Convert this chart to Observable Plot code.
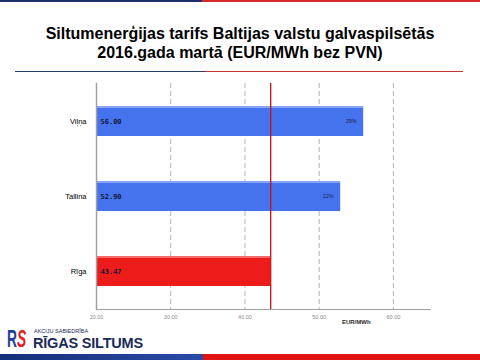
<!DOCTYPE html>
<html>
<head>
<meta charset="utf-8">
<script src="https://cdn.jsdelivr.net/npm/d3@7"></script>
<script src="https://cdn.jsdelivr.net/npm/@observablehq/plot@0.6"></script>
<style>
  html, body { margin: 0; padding: 0; background: #fff; }
  #page { position: relative; width: 480px; height: 360px; overflow: hidden; font-family: "Liberation Sans", Arial, sans-serif; }
  .stripe { position: absolute; }
  #title { position: absolute; top: 24px; left: 0; width: 480px; text-align: center; font-weight: bold; font-size: 16px; line-height: 19px; color: #000; }
  #chart { position: absolute; top: 72px; left: 0; }
  #logo { position: absolute; left: 7px; top: 328px; width: 160px; height: 24px; }
  #logo span { position: absolute; line-height: 1; white-space: nowrap; }
</style>
</head>
<body>
<div id="page">
  <div class="stripe" style="left:0;top:0;width:202px;height:2px;background:#1c2f6b"></div>
  <div class="stripe" style="left:202px;top:0;width:278px;height:2px;background:#d42a2a"></div>
  <div id="title">Siltumenerģijas tarifs Baltijas valstu galvaspilsētās<br>2016.gada martā (EUR/MWh bez PVN)</div>
  <div class="stripe" style="left:15px;top:71px;width:190px;height:1px;background:#2a3a6a"></div>
  <div class="stripe" style="left:205px;top:71px;width:258px;height:1px;background:#c83232"></div>
  <div id="chart"></div>
  <div id="logo">
    <span style="left:0;top:0px;font-weight:bold;font-size:23px;color:#1d3f9a;transform:scaleX(0.6);transform-origin:left top;">R</span>
    <span style="left:10px;top:0px;font-weight:bold;font-style:italic;font-size:23px;color:#e02020;transform:scaleX(0.6);transform-origin:left top;">S</span>
    <span style="left:27px;top:1px;font-size:5.5px;color:#1a2a5a;">AKCIJU SABIEDRĪBA</span>
    <span style="left:26px;top:8px;font-weight:bold;font-size:14.5px;color:#1a2a5a;letter-spacing:-0.2px;">RĪGAS SILTUMS</span>
  </div>
  <div class="stripe" style="left:0;top:354px;width:203px;height:6px;background:linear-gradient(90deg,#142f78,#2a4aa8)"></div>
  <div class="stripe" style="left:203px;top:354px;width:277px;height:6px;background:#e01414"></div>
</div>
<script>
// Data
const cities = ["Viļņa", "Tallina", "Rīga"];
const tariffs = [56.00, 52.90, 43.47];
const diffLabels = ["29%", "22%", ""];
const xTicks = [20, 30, 40, 50, 60];
const xDomain = [20, 65];
const unitLabel = "EUR/MWh";
const referenceCity = "Rīga";

const barColors = { "Viļņa": "#4573ee", "Tallina": "#4573ee", "Rīga": "#ee1b1b" };

const rows = cities.map((c, i) => ({ city: c, value: tariffs[i], diff: diffLabels[i], base: xDomain[0] }));
const refValue = tariffs[cities.indexOf(referenceCity)];

const chart = Plot.plot({
  width: 480,
  height: 258,
  marginLeft: 96,
  marginRight: 50,
  marginTop: 11,
  marginBottom: 21,
  style: { fontFamily: "'Liberation Sans', Arial, sans-serif", background: "transparent" },
  x: { domain: xDomain, ticks: xTicks, tickFormat: d3.format(".2f") },
  y: { domain: cities, paddingInner: 0.6, paddingOuter: 0.3, label: null },
  marks: [
    Plot.ruleX(xTicks.slice(1), { stroke: "#b4b4b4", strokeWidth: 1, strokeDasharray: "5,3" }),
    Plot.barX(rows, { y: "city", x1: "base", x2: "value", fill: d => barColors[d.city], insetLeft: 1 }),
    Plot.barX(rows, { y: "city", x1: "base", x2: "value", fill: "#ffffff", fillOpacity: 0.35, insetLeft: 1, insetBottom: 28 }),
    Plot.ruleX([refValue], { stroke: "#cc1111", strokeWidth: 1.3 }),
    Plot.text(rows, { y: "city", x: "base", text: d => d3.format(".2f")(d.value), textAnchor: "start", dx: 4, fontSize: 7, fontWeight: "bold", fill: "#10183a", fontFamily: "'DejaVu Sans Mono', monospace", style: "letter-spacing:0.5px" }),
    Plot.text(rows, { y: "city", x: "value", text: "diff", textAnchor: "end", dx: -7, fontSize: 5.5, fill: "#1a2250", style: "letter-spacing:0.3px" }),
    Plot.frame({ anchor: "left", stroke: "#a0a0a0", strokeWidth: 1.5 }),
    Plot.frame({ anchor: "bottom", stroke: "#a0a0a0", strokeWidth: 1 }),
    Plot.axisY({ tickSize: 0, tickPadding: 10, fontSize: 7.5, fill: "#000", label: null, style: "letter-spacing:0.4px" }),
    Plot.axisX({ ticks: xTicks, tickFormat: d3.format(".2f"), tickSize: 0, tickPadding: 6, fontSize: 5.5, fill: "#8a8a8a", label: null, style: "letter-spacing:0.5px" }),
    Plot.text([unitLabel], { frameAnchor: "bottom-right", x: 55, text: d => d, dy: 14, fontSize: 6, fontWeight: "bold", fill: "#2a2a2a", textAnchor: "middle" })
  ]
});
document.getElementById("chart").appendChild(chart);
</script>
</body>
</html>
